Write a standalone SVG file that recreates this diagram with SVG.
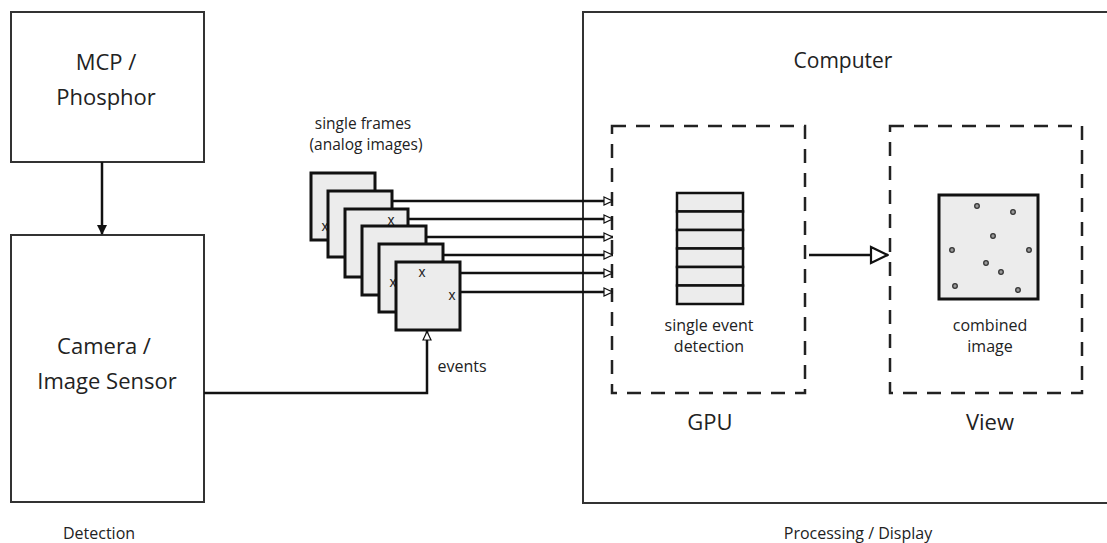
<svg xmlns="http://www.w3.org/2000/svg" width="1107" height="543" viewBox="0 0 1107 543">
<style>
text{font-family:"Open Sans","Noto Sans","DejaVu Sans",sans-serif;fill:#222;text-anchor:middle}
.box{fill:#fff;stroke:#333;stroke-width:2}
.dash{fill:none;stroke:#222;stroke-width:2.5;stroke-dasharray:14 10}
.frame{fill:#ececec;stroke:#111;stroke-width:3}
.cell{fill:#ececec;stroke:#111;stroke-width:2.5}
.ln{stroke:#111;stroke-width:2.5;fill:none}
.dot{fill:#999;stroke:#333;stroke-width:1.3}
.big{font-size:22px}
.mid{font-size:16px}
.sm{font-size:16px}
.x{font-size:14px;font-family:"Liberation Sans",sans-serif}
</style>
<defs>
<marker id="open" viewBox="0 0 10 10" refX="10" refY="5" markerWidth="10" markerHeight="10" markerUnits="userSpaceOnUse" orient="auto">
<path d="M1,1 L9.5,5 L1,9 Z" fill="#fff" stroke="#111" stroke-width="1.2"/>
</marker>
<marker id="fill" viewBox="0 0 10 10" refX="9" refY="5" markerWidth="10" markerHeight="10" markerUnits="userSpaceOnUse" orient="auto">
<path d="M0,0 L10,5 L0,10 Z" fill="#111"/>
</marker>
<marker id="big" viewBox="0 0 20 20" refX="19" refY="10" markerWidth="20" markerHeight="20" markerUnits="userSpaceOnUse" orient="auto">
<path d="M2,2 L18.5,10 L2,18 Z" fill="#fff" stroke="#111" stroke-width="2.2"/>
</marker>
</defs>

<g id="computer">
<rect class="box" x="583" y="12" width="530" height="491"/>
<text x="843" y="68" style="font-size:21px">Computer</text>
</g>

<g id="mcp">
<rect class="box" x="11" y="12" width="193" height="150"/>
<text class="big" x="106" y="70">MCP /</text>
<text class="big" x="106" y="105">Phosphor</text>
</g>

<g id="camera">
<rect class="box" x="11" y="235" width="193" height="267"/>
<text class="big" x="104" y="354">Camera /</text>
<text class="big" x="107" y="389">Image Sensor</text>
</g>

<g id="detection-label"><text class="sm" x="99" y="539">Detection</text></g>
<g id="processing-label"><text class="sm" x="858" y="539">Processing / Display</text></g>

<g id="frames">
<text x="363" y="129" style="font-size:15.5px">single frames</text>
<text x="366" y="150" style="font-size:15.5px">(analog images)</text>
<rect class="frame" x="311" y="173" width="64" height="67"/>
<text class="x" x="325" y="231">x</text>
<rect class="frame" x="328" y="191" width="64" height="66"/>
<rect class="frame" x="345" y="209" width="63" height="68"/>
<text class="x" x="391" y="225">x</text>
<rect class="frame" x="362" y="226" width="64" height="69"/>
<rect class="frame" x="379" y="244" width="64" height="68"/>
<text class="x" x="393" y="287">x</text>
<rect class="frame" x="396" y="262" width="64" height="68"/>
<text class="x" x="422" y="277">x</text>
<text class="x" x="452" y="300">x</text>
</g>

<g id="gpu">
<rect class="dash" x="612" y="126" width="193" height="267"/>
<rect class="cell" x="677" y="193" width="66" height="18.5"/>
<rect class="cell" x="677" y="211.5" width="66" height="18.5"/>
<rect class="cell" x="677" y="230" width="66" height="18.5"/>
<rect class="cell" x="677" y="248.5" width="66" height="18.5"/>
<rect class="cell" x="677" y="267" width="66" height="18.5"/>
<rect class="cell" x="677" y="285.5" width="66" height="18.5"/>
<text class="mid" x="709" y="331">single event</text>
<text class="mid" x="709" y="352">detection</text>
<text class="big" x="710" y="430">GPU</text>
</g>

<g id="view">
<rect class="dash" x="890" y="126" width="192" height="267"/>
<rect x="939" y="195" width="99" height="104" fill="#ececec" stroke="#111" stroke-width="3"/>
<circle class="dot" cx="977" cy="206" r="2.3"/>
<circle class="dot" cx="1013" cy="212" r="2.3"/>
<circle class="dot" cx="993" cy="236" r="2.3"/>
<circle class="dot" cx="952" cy="250" r="2.3"/>
<circle class="dot" cx="1029" cy="250" r="2.3"/>
<circle class="dot" cx="986" cy="263" r="2.3"/>
<circle class="dot" cx="1001" cy="272" r="2.3"/>
<circle class="dot" cx="955" cy="286" r="2.3"/>
<circle class="dot" cx="1018" cy="290" r="2.3"/>
<text class="mid" x="990" y="331">combined</text>
<text class="mid" x="990" y="352">image</text>
<text class="big" x="990" y="430">View</text>
</g>

<g id="connectors">
<line class="ln" x1="102" y1="162" x2="102" y2="234" marker-end="url(#fill)"/>
<polyline class="ln" points="204,393 427,393 427,331" marker-end="url(#open)"/>
<text class="mid" x="462" y="372">events</text>
<line class="ln" x1="392" y1="201" x2="613" y2="201" marker-end="url(#open)"/>
<line class="ln" x1="408" y1="219" x2="613" y2="219" marker-end="url(#open)"/>
<line class="ln" x1="426" y1="237" x2="613" y2="237" marker-end="url(#open)"/>
<line class="ln" x1="443" y1="255" x2="613" y2="255" marker-end="url(#open)"/>
<line class="ln" x1="460" y1="273" x2="613" y2="273" marker-end="url(#open)"/>
<line class="ln" x1="460" y1="292" x2="613" y2="292" marker-end="url(#open)"/>
<line class="ln" x1="809" y1="255" x2="888" y2="255" marker-end="url(#big)"/>
</g>
</svg>
